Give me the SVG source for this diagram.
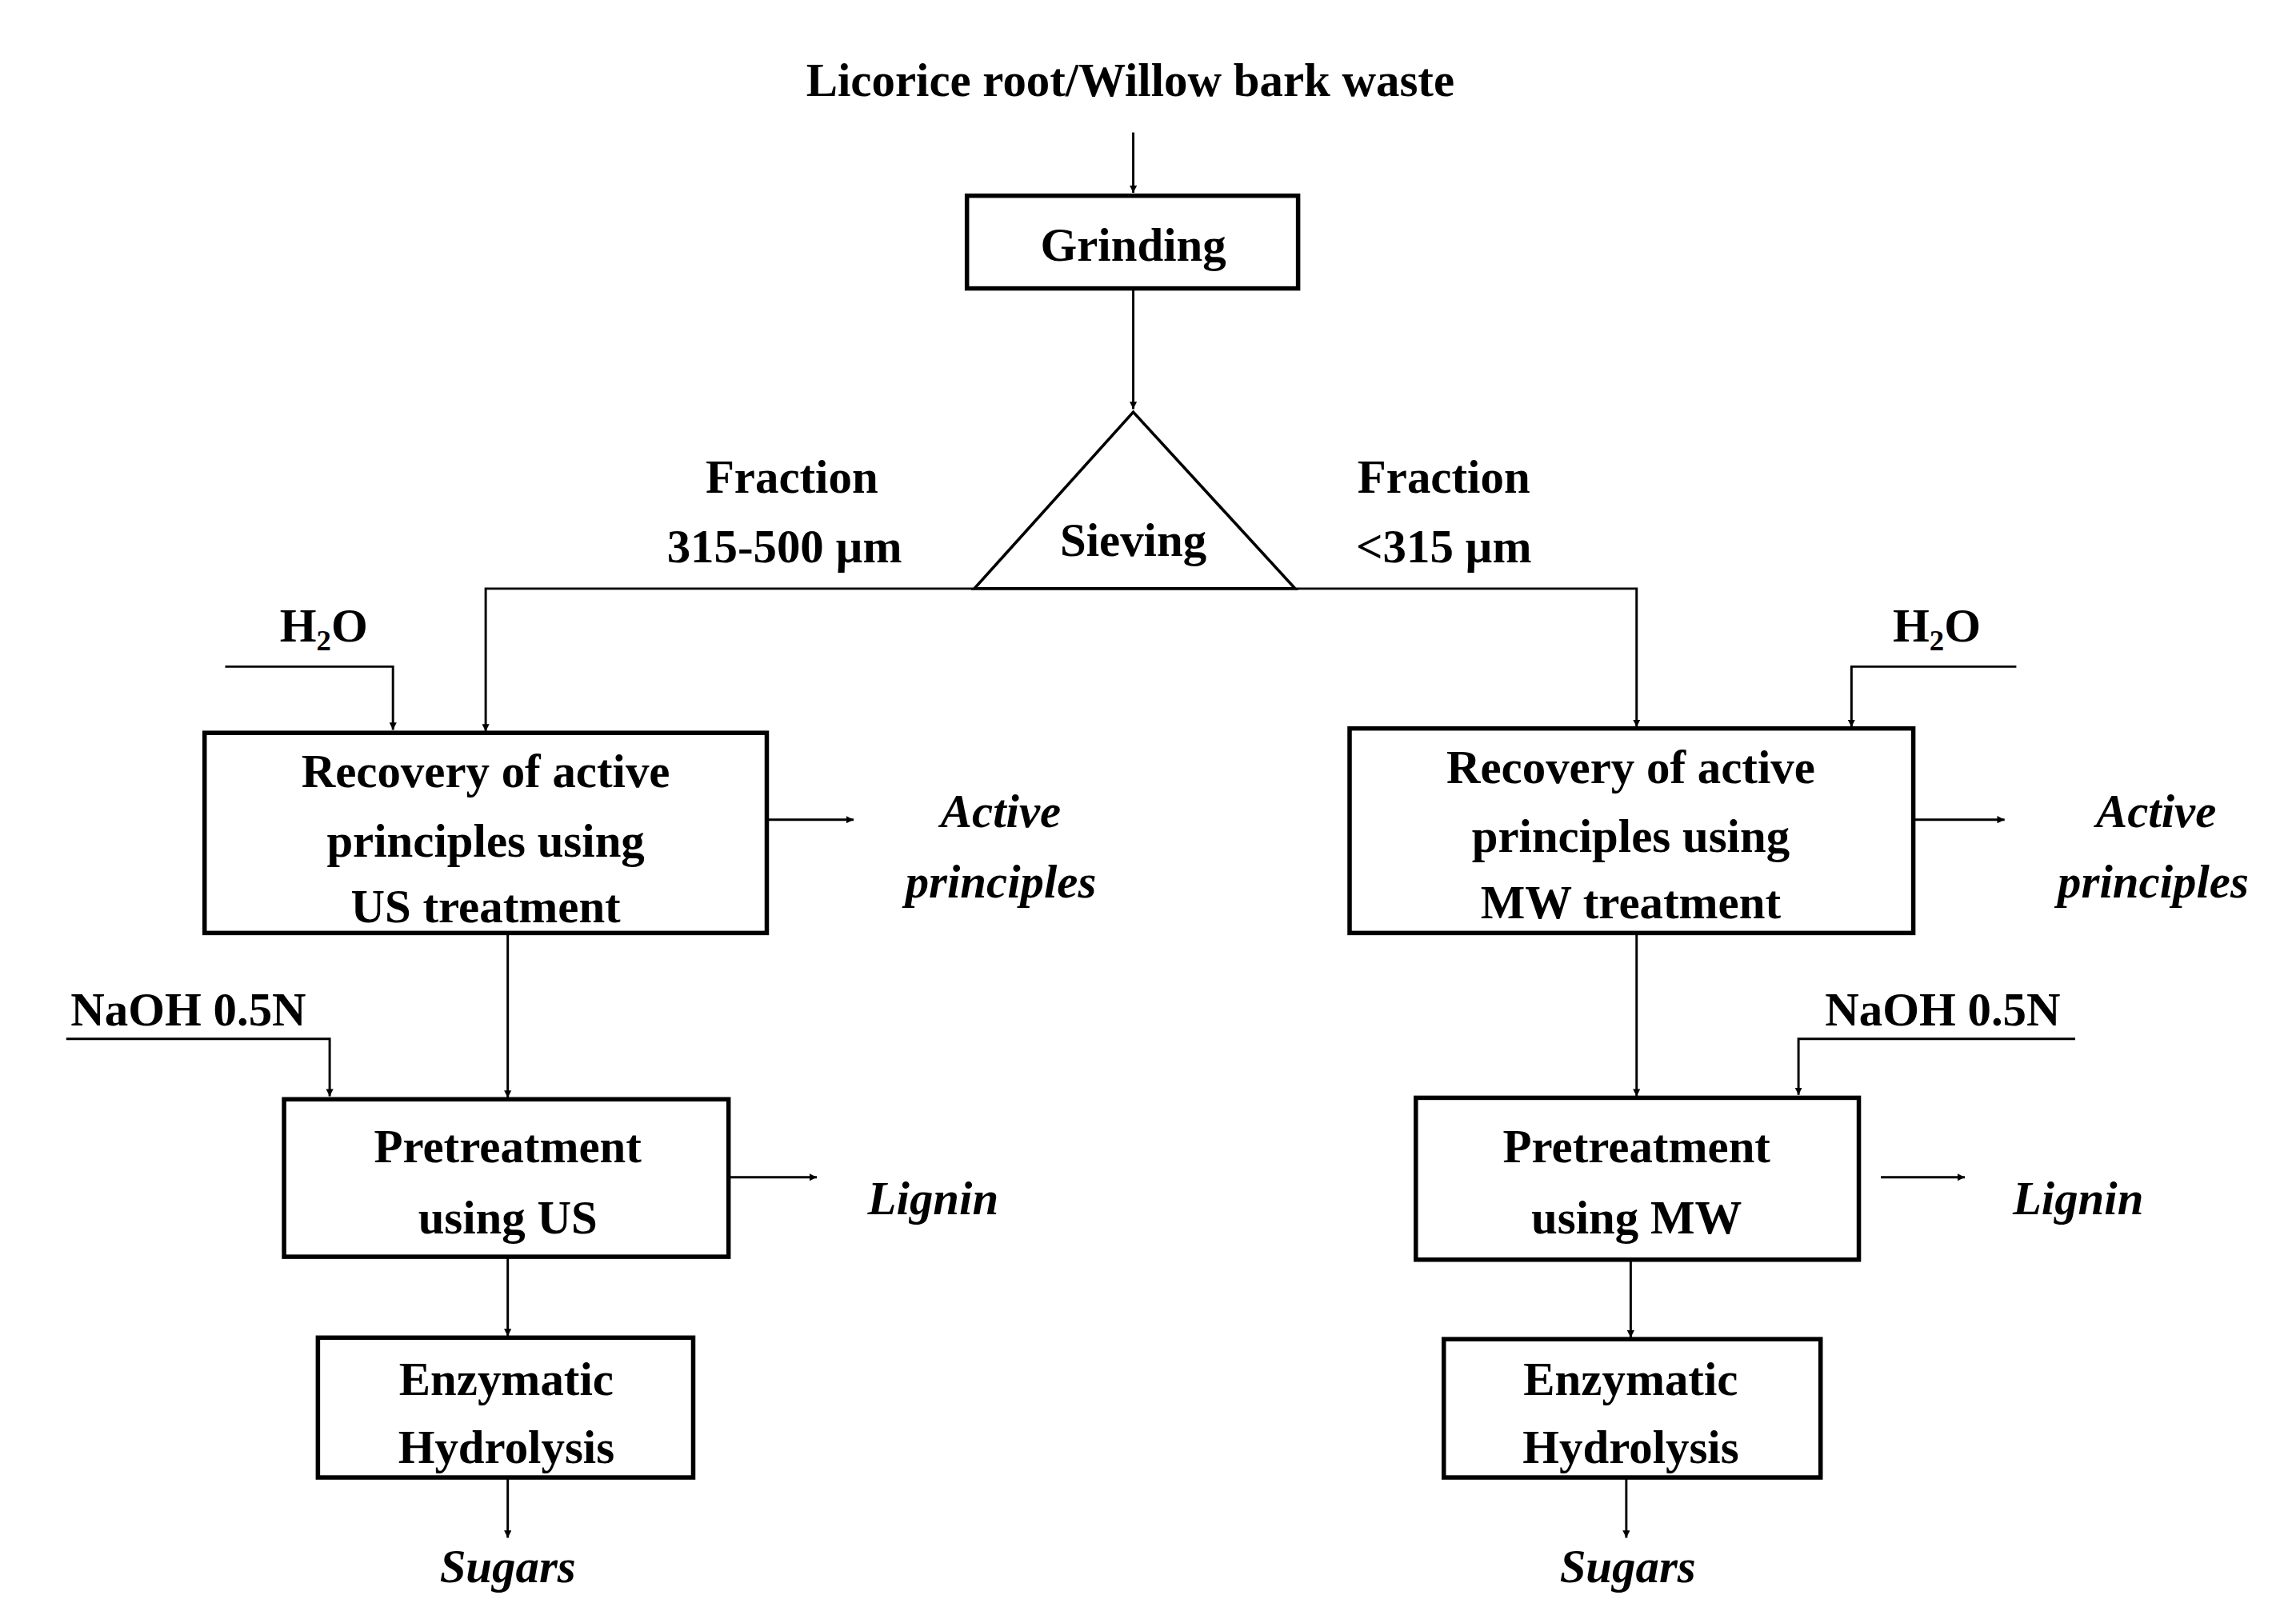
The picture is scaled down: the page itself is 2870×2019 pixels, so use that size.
<svg xmlns="http://www.w3.org/2000/svg" width="2870" height="2019" viewBox="0 0 2870 2019">
<defs>
<marker id="ah" viewBox="0 0 10 10" refX="10" refY="5" markerWidth="5" markerHeight="5" orient="auto" markerUnits="userSpaceOnUse">
<path d="M0,0 L10,5 L0,10 z" fill="#000"/>
</marker>
<style>
text{font-family:"Liberation Serif","Times New Roman",serif;font-weight:bold;font-size:32px;fill:#000;text-anchor:middle}
.i{font-style:italic}
.b{fill:#fff;stroke:#000;stroke-width:3}
.c line,.c polyline{stroke:#000;stroke-width:1.6;fill:none}
.a{marker-end:url(#ah)}
</style>
</defs>
<rect width="2870" height="2019" fill="#fff"/>
<g transform="scale(1.8397)">
<g class="c" id="connectors">
<line class="a" x1="770" y1="90" x2="770" y2="131"/>
<line class="a" x1="770" y1="196" x2="770" y2="278"/>
<polyline class="a" points="662,400 330,400 330,497"/>
<polyline class="a" points="880,400 1112,400 1112,494"/>
<polyline class="a" points="153,453 267,453 267,496"/>
<line class="a" x1="521" y1="557" x2="580" y2="557"/>
<line class="a" x1="345" y1="634" x2="345" y2="746"/>
<polyline class="a" points="45,706 224,706 224,745"/>
<line class="a" x1="495" y1="800" x2="555" y2="800"/>
<line class="a" x1="345" y1="854" x2="345" y2="908"/>
<line class="a" x1="345" y1="1004" x2="345" y2="1045"/>
<polyline class="a" points="1370,453 1258,453 1258,494"/>
<line class="a" x1="1300" y1="557" x2="1362" y2="557"/>
<line class="a" x1="1112" y1="634" x2="1112" y2="745"/>
<polyline class="a" points="1410,706 1222,706 1222,744"/>
<line class="a" x1="1278" y1="800" x2="1335" y2="800"/>
<line class="a" x1="1108" y1="856" x2="1108" y2="909"/>
<line class="a" x1="1105" y1="1004" x2="1105" y2="1045"/>
</g>
<g id="title"><text x="768" y="65">Licorice root/Willow bark waste</text></g>
<g id="grinding"><rect class="b" x="657" y="133" width="225" height="63"/><text x="770" y="177">Grinding</text></g>
<g id="sieving"><polygon class="b" points="770,280 662,400 880,400" style="stroke-width:2"/><text x="770" y="378">Sieving</text></g>
<g id="labels">
<text x="538" y="335">Fraction</text><text x="533" y="382">315-500 µm</text>
<text x="981" y="335">Fraction</text><text x="981" y="382">&lt;315 µm</text>
<text x="220" y="436">H<tspan font-size="20" dy="6">2</tspan><tspan dy="-6">O</tspan></text>
<text x="1316" y="436">H<tspan font-size="20" dy="6">2</tspan><tspan dy="-6">O</tspan></text>
<text x="128" y="697">NaOH 0.5N</text>
<text x="1320" y="697">NaOH 0.5N</text>
<text class="i" x="680" y="562">Active</text><text class="i" x="680" y="610">principles</text>
<text class="i" x="1465" y="562">Active</text><text class="i" x="1463" y="610">principles</text>
<text class="i" x="634" y="825">Lignin</text><text class="i" x="1412" y="825">Lignin</text>
<text class="i" x="345" y="1075">Sugars</text><text class="i" x="1106" y="1075">Sugars</text>
</g>
<g id="recUS"><rect class="b" x="139" y="498" width="382" height="136"/><text x="330" y="535">Recovery of active</text><text x="330" y="582">principles using</text><text x="330" y="627">US treatment</text></g>
<g id="preUS"><rect class="b" x="193" y="747" width="302" height="107"/><text x="345" y="790">Pretreatment</text><text x="345" y="838">using US</text></g>
<g id="enzUS"><rect class="b" x="216" y="909" width="255" height="95"/><text x="344" y="948">Enzymatic</text><text x="344" y="994">Hydrolysis</text></g>
<g id="recMW"><rect class="b" x="917" y="495" width="383" height="139"/><text x="1108" y="532">Recovery of active</text><text x="1108" y="579">principles using</text><text x="1108" y="624">MW treatment</text></g>
<g id="preMW"><rect class="b" x="962" y="746" width="301" height="110"/><text x="1112" y="790">Pretreatment</text><text x="1112" y="838">using MW</text></g>
<g id="enzMW"><rect class="b" x="981" y="910" width="256" height="94"/><text x="1108" y="948">Enzymatic</text><text x="1108" y="994">Hydrolysis</text></g>
</g>
</svg>
